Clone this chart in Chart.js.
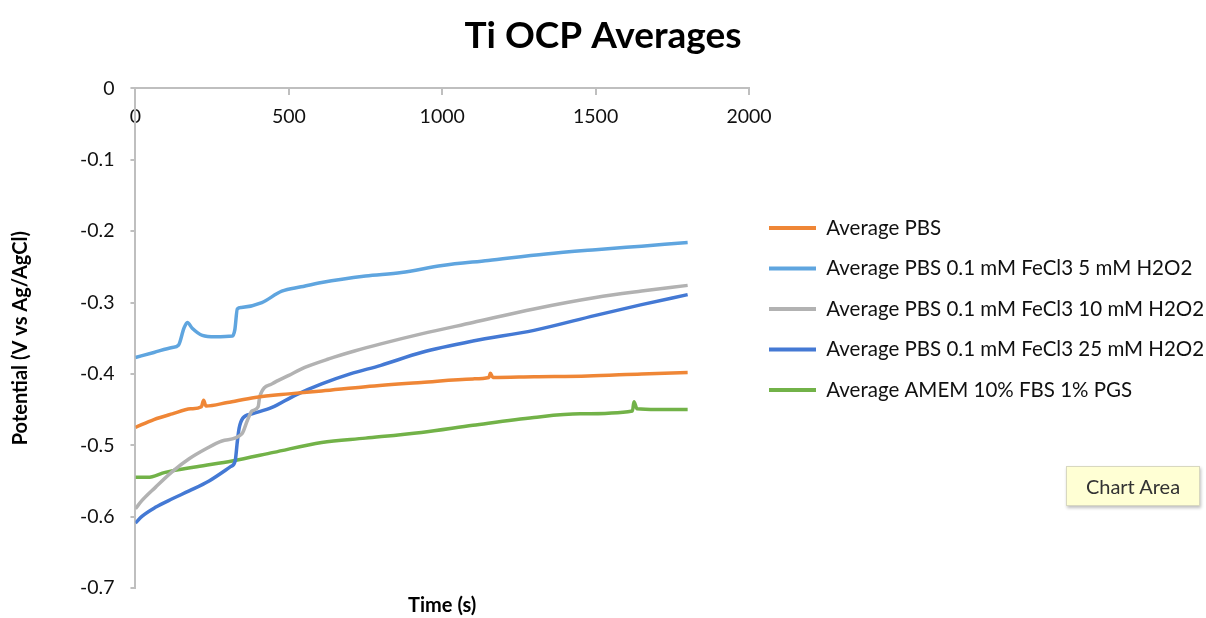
<!DOCTYPE html>
<html>
<head>
<meta charset="utf-8">
<script src="https://cdn.jsdelivr.net/npm/chart.js@4"></script>
<style>
  body { margin: 0; background: #fff; }
  #wrap { position: relative; width: 1206px; height: 618px; }
  #tip {
    position: absolute; left: 1066px; top: 466px; width: 132px; height: 38px;
    background: #ffffd4; border: 1px solid #d8d8c0; box-shadow: 1px 2px 3px rgba(0,0,0,0.25);
    font: 20px Lato, sans-serif; color: #333; line-height: 38px; text-align: center;
  }
</style>
</head>
<body>
<div id="wrap">
  <canvas id="ocpChart"></canvas>
  <div id="tip">Chart Area</div>
</div>
<script>
// series names + colours
const seriesNames = [
  "Average PBS",
  "Average PBS 0.1 mM FeCl3 5 mM H2O2",
  "Average PBS 0.1 mM FeCl3 10 mM H2O2",
  "Average PBS 0.1 mM FeCl3 25 mM H2O2",
  "Average AMEM 10% FBS 1% PGS"
];
const seriesColors = ["#ef8636", "#5fa5df", "#b2b2b2", "#4479d4", "#72b248"];

// time (s) and potential (V)
const pbsTime = [0, 60, 120, 180, 215, 222, 230, 300, 390, 500, 607, 750, 932, 1100, 1152, 1157, 1165, 1300, 1474, 1650, 1800];
const pbsV = [-0.475, -0.464, -0.456, -0.449, -0.446, -0.437, -0.445, -0.440, -0.433, -0.428, -0.424, -0.418, -0.412, -0.407, -0.405, -0.399, -0.405, -0.404, -0.403, -0.400, -0.398];

const fe5Time = [0, 60, 120, 140, 158, 169, 185, 218, 260, 316, 324, 332, 345, 412, 477, 540, 607, 750, 867, 1000, 1150, 1338, 1500, 1650, 1800];
const fe5V = [-0.377, -0.370, -0.363, -0.360, -0.336, -0.328, -0.336, -0.346, -0.348, -0.347, -0.338, -0.309, -0.307, -0.300, -0.284, -0.278, -0.272, -0.263, -0.258, -0.248, -0.241, -0.232, -0.226, -0.221, -0.216];

const fe10Time = [0, 20, 65, 120, 175, 230, 282, 347, 365, 380, 400, 405, 445, 500, 552, 630, 714, 800, 932, 1100, 1299, 1500, 1650, 1800];
const fe10V = [-0.589, -0.578, -0.559, -0.537, -0.519, -0.505, -0.494, -0.484, -0.465, -0.452, -0.446, -0.432, -0.414, -0.402, -0.391, -0.379, -0.368, -0.358, -0.344, -0.328, -0.309, -0.293, -0.284, -0.276];

const fe25Time = [0, 20, 65, 120, 175, 240, 310, 325, 332, 338, 350, 380, 445, 520, 607, 700, 800, 932, 1100, 1299, 1500, 1650, 1800];
const fe25V = [-0.609, -0.600, -0.587, -0.575, -0.564, -0.550, -0.530, -0.522, -0.495, -0.476, -0.462, -0.456, -0.447, -0.430, -0.414, -0.400, -0.388, -0.370, -0.354, -0.339, -0.318, -0.303, -0.289];

const amemTime = [0, 40, 97, 200, 315, 450, 607, 750, 932, 1100, 1299, 1450, 1620, 1625, 1635, 1700, 1800];
const amemV = [-0.545, -0.545, -0.538, -0.530, -0.522, -0.510, -0.496, -0.490, -0.482, -0.472, -0.461, -0.456, -0.452, -0.439, -0.449, -0.450, -0.450];

const allTimes = [pbsTime, fe5Time, fe10Time, fe25Time, amemTime];
const allValues = [pbsV, fe5V, fe10V, fe25V, amemV];

const xTicks = [0, 500, 1000, 1500, 2000];
const yTicks = [0, -0.1, -0.2, -0.3, -0.4, -0.5, -0.6, -0.7];

Chart.defaults.font.family = "Lato";
Chart.defaults.color = "#111";

const datasets = seriesNames.map(function (name, i) {
  return {
    label: name,
    data: allTimes[i].map(function (t, j) { return { x: t, y: allValues[i][j] }; }),
    borderColor: seriesColors[i],
    backgroundColor: seriesColors[i],
    borderWidth: 3.5,
    pointRadius: 0,
    cubicInterpolationMode: "monotone",
  };
});

const axisGray = "#bfbfbf";

const config = {
  type: "line",
  data: { datasets: datasets },
  options: {
    responsive: true,
    maintainAspectRatio: false,
    animation: false,
    plugins: {
      title: {
        display: true,
        text: "Ti OCP Averages",
        color: "#000",
        font: { size: 37, weight: "bold" },
        padding: { top: 14, bottom: 30 },
      },
      subtitle: {
        display: true,
        text: "Time (s)",
        position: "bottom",
        fullSize: false,
        color: "#000",
        font: { size: 20, weight: "bold" },
        padding: { top: 6, bottom: 0 },
      },
      legend: {
        position: "right",
        maxWidth: 457,
        labels: {
          boxWidth: 47,
          boxHeight: 4,
          padding: 20,
          font: { size: 20.5 },
          color: "#111",
          generateLabels: function (chart) {
            return Chart.defaults.plugins.legend.labels.generateLabels(chart).map(function (l) {
              l.lineWidth = 0;
              return l;
            });
          },
        },
      },
      tooltip: { enabled: false },
    },
    scales: {
      x: {
        type: "linear",
        position: { y: 0 },
        min: 0,
        max: 2000,
        afterBuildTicks: function (axis) { axis.ticks = xTicks.map(function (v) { return { value: v }; }); },
        ticks: {
          font: { size: 19.5 },
          color: "#111",
          padding: 11,
          callback: function (v) { return String(v); },
        },
        grid: { drawOnChartArea: false, tickLength: 6, color: axisGray, lineWidth: 2 },
        border: { color: axisGray, width: 2 },
      },
      y: {
        min: -0.7,
        max: 0,
        afterBuildTicks: function (axis) { axis.ticks = yTicks.map(function (v) { return { value: v }; }); },
        ticks: {
          font: { size: 19.5 },
          color: "#111",
          padding: 16,
          callback: function (v) { return v === 0 ? "0" : v.toFixed(1); },
        },
        grid: { drawOnChartArea: false, tickLength: 5, color: axisGray, lineWidth: 2 },
        border: { color: axisGray, width: 2 },
        title: {
          display: true,
          text: "Potential (V vs Ag/AgCl)",
          color: "#000",
          font: { size: 20, weight: "bold" },
          padding: { top: 9, bottom: 31 },
        },
      },
    },
  },
};

new Chart(document.getElementById("ocpChart"), config);
</script>
</body>
</html>
